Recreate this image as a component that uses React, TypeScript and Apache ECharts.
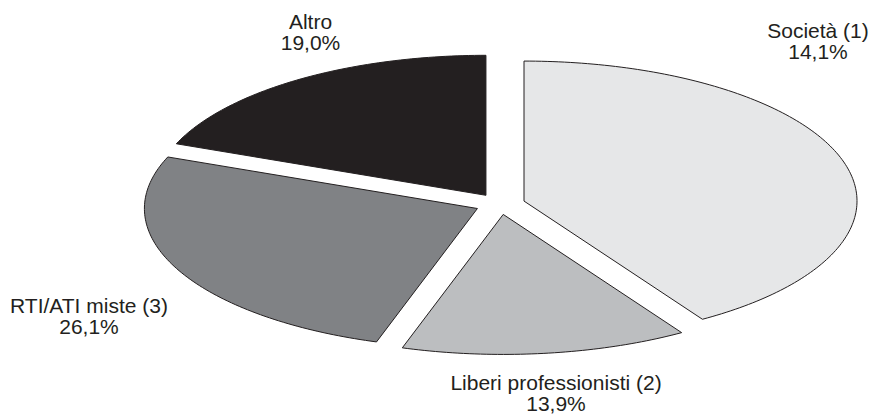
import React, { useEffect, useRef } from "react";
import * as echarts from "echarts";

const categories = ["Società (1)", "Liberi professionisti (2)", "RTI/ATI miste (3)", "Altro"];
const values = [41.0, 13.9, 26.1, 19.0];
const percentLabels = ["14,1%", "13,9%", "26,1%", "19,0%"];
const colors = ["#e6e7e8", "#bcbec0", "#808285", "#231f20"];

// layout constants
const CX = 500;
const CY = 204;
const RX = 333;
const RY = 140;
const EXPLODE = 25;
const labelAnchors = [
  [818, 40.5],
  [556, 392.5],
  [89, 315.5],
  [310.5, 31.5],
];

export default function App() {
  const ref = useRef<HTMLDivElement>(null);
  useEffect(() => {
    if (!ref.current) return;
    const chart = echarts.init(ref.current, undefined, { renderer: "svg" });
    const total = values.reduce((a, b) => a + b, 0);
    const renderItem = (params: any, api: any) => {
      const i = params.dataIndex;
      let before = 0;
      for (let j = 0; j < i; j++) before += values[j];
      const start = (before / total) * Math.PI * 2;
      const end = start + (api.value(0) / total) * Math.PI * 2;
      const mid = (start + end) / 2;
      const ox = EXPLODE * Math.sin(mid);
      const oy = -EXPLODE * Math.cos(mid) * (RY / RX);
      const cx = CX + ox;
      const cy = CY + oy;
      const pts: number[][] = [[cx, cy]];
      const steps = Math.max(8, Math.ceil(((end - start) / (Math.PI * 2)) * 360));
      for (let s = 0; s <= steps; s++) {
        const t = start + ((end - start) * s) / steps;
        pts.push([cx + RX * Math.sin(t), cy - RY * Math.cos(t)]);
      }
      const [lx, ly] = labelAnchors[i];
      return {
        type: "group",
        children: [
          {
            type: "polygon",
            shape: { points: pts },
            style: { fill: colors[i], stroke: "#231f20", lineWidth: 1, lineJoin: "miter" },
          },
          {
            type: "text",
            x: lx,
            y: ly,
            style: {
              text: categories[i] + "\n" + percentLabels[i],
              fill: "#231f20",
              fontSize: 21,
              fontFamily: "'Liberation Sans', Arial, sans-serif",
              lineHeight: 21,
              align: "center",
              verticalAlign: "middle",
            },
          },
        ],
      };
    };
    chart.setOption({
      animation: false,
      backgroundColor: "#ffffff",
      series: [
        {
          type: "custom",
          coordinateSystem: "none",
          silent: true,
          data: values.map((v) => [v]),
          renderItem,
        },
      ],
    });
    return () => chart.dispose();
  }, []);
  return (
    <div
      ref={ref}
      style={{ position: "fixed", left: 0, top: 0, width: 872, height: 415 }}
    />
  );
}
